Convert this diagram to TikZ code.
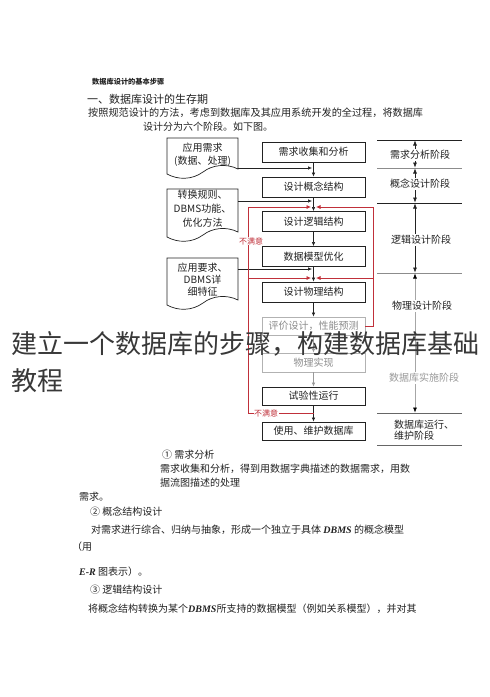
\documentclass[tikz,border=0pt]{standalone}
\usepackage{fontspec}
\setmainfont{Noto Sans CJK SC}
\newfontfamily\lserif{Liberation Serif}
\usetikzlibrary{arrows.meta}
\newcommand\myfs[1]{\fontsize{#1}{#1}\selectfont}
\definecolor{dred}{HTML}{C0303A}
\definecolor{ink}{HTML}{222222}
\begin{document}
\begin{tikzpicture}[x=1pt,y=-1pt,
  stepbox/.style={draw=ink, line width=0.8pt, minimum width=103pt, minimum height=20pt, inner sep=0pt, font={\myfs{10}}, text=ink},
  graybox/.style={stepbox, draw=black!30, text=black!45},
  arr/.style={-{Latex[length=4pt,width=3.5pt]}, line width=0.6pt, draw=ink},
  garr/.style={arr, draw=black!40},
  redl/.style={draw=dred, line width=0.7pt},
  redarr/.style={redl, -{Latex[length=4.5pt,width=4pt]}},
  docshape/.style={draw=ink, line width=0.7pt, fill=white},
  doctext/.style={align=center, font={\fontsize{10}{13}\selectfont}, text=ink, inner sep=0pt},
  phline/.style={draw=ink, line width=0.8pt},
  pharr/.style={{Latex[length=5pt,width=4pt]}-{Latex[length=5pt,width=4pt]}, line width=0.6pt, draw=ink},
  phase/.style={font={\myfs{10}}, fill=white, inner sep=1.5pt, text=ink},
  txt/.style={anchor=west, inner sep=0pt, font={\myfs{10}}, text=ink},
  warn/.style={font={\myfs{8}}, text=dred, fill=white, inner sep=0.5pt}
]
\useasboundingbox[fill=white] (0,0) rectangle (490,697);

% ---- heading text ----
\node[txt, font={\bfseries\myfs{7.2}}] (h0) at (92,82) {数据库设计的基本步骤};
\node[txt, font={\myfs{11}}] (h1) at (87,99) {一、数据库设计的生存期};
\node[txt, font={\myfs{10.15}}] (h2) at (88,113) {按照规范设计的方法，考虑到数据库及其应用系统开发的全过程，将数据库};
\node[txt] (h3) at (143,127) {设计分为六个阶段。如下图。};

% ---- main step boxes ----
\node[stepbox] (b1) at (313.5,152) {需求收集和分析};
\node[stepbox] (b2) at (313.5,187) {设计概念结构};
\node[stepbox] (b3) at (313.5,221.5) {设计逻辑结构};
\node[stepbox] (b4) at (313.5,256.5) {数据模型优化};
\node[stepbox] (b5) at (313.5,292) {设计物理结构};
\node[graybox, minimum height=18pt] (b6) at (313.5,326) {评价设计，性能预测};
\node[graybox, minimum height=19pt] (b7) at (313.5,362.5) {物理实现};
\node[stepbox, minimum height=18pt] (b8) at (313.5,396) {试验性运行};
\node[stepbox, minimum height=18pt] (b9) at (313.5,431) {使用、维护数据库};

\draw[arr] (b1) -- (b2);
\draw[arr] (b2) -- (b3);
\draw[arr] (b3) -- (b4);
\draw[arr] (b4) -- (b5);
\draw[arr] (b5) -- (b6);
\draw[garr] (b6) -- (b7);
\draw[garr] (b7) -- (b8);
\draw[arr] (b8) -- (b9);

% ---- input documents ----
\draw[docshape] (167,138) -- (238,138) -- (238,169) .. controls (226,163) and (212,165) .. (203,172) .. controls (192,180) and (178,180) .. (167,174) -- cycle;
\node[doctext] (d1) at (202.5,154.5) {应用需求\\(数据、处理)};
\draw[docshape] (167,189) -- (238,189) -- (238,232) .. controls (226,226) and (212,228) .. (203,235) .. controls (192,243) and (178,243) .. (167,237) -- cycle;
\node[doctext, font={\fontsize{10}{14}\selectfont}] (d2) at (202.5,209) {转换规则、\\DBMS功能、\\优化方法};
\draw[docshape] (167,258) -- (238,258) -- (238,300) .. controls (226,294) and (212,296) .. (203,303) .. controls (192,311) and (178,311) .. (167,305) -- cycle;
\node[doctext, font={\fontsize{10}{12}\selectfont}] (d3) at (202.5,280) {应用要求、\\DBMS详\\细特征};

\coordinate (d1o) at (238,168);
\coordinate (d2o) at (238,201);
\coordinate (d3o) at (238,269);
\coordinate (c1) at (312,168);
\coordinate (c2) at (312,201);
\coordinate (c3) at (312,269);
\draw[arr] (d1o) -- (c1);
\draw[arr] (d2o) -- (c2);
\draw[arr] (d3o) -- (c3);

% ---- feedback (red) ----
\coordinate (rl1) at (248,207);
\coordinate (rr1) at (373,207);
\coordinate (rl2) at (248,278);
\coordinate (rr2) at (373,278);
\coordinate (rlb) at (248,413);
\coordinate (rcb) at (313.5,413);
\coordinate (rrb) at (373,326);
\coordinate (t1l) at (311,207);
\coordinate (t1r) at (316,207);
\coordinate (t2l) at (311,278);
\coordinate (t2r) at (316,278);
\draw[redl] (rcb) -- (rlb) -- (rl1);
\draw[redarr] (rl1) -- (t1l);
\draw[redarr] (rl2) -- (t2l);
\draw[redl] (b6.east) -- (rrb) -- (rr1);
\draw[redarr] (rr1) -- (t1r);
\draw[redarr] (rr2) -- (t2r);
\node[warn] (w1) at (251,241) {不满意};
\node[warn] (w2) at (266,413) {不满意};

% ---- phases (right) ----
\coordinate (p0l) at (377,140); \coordinate (p0r) at (462,140);
\coordinate (p1l) at (377,168); \coordinate (p1r) at (462,168);
\coordinate (p2l) at (377,203); \coordinate (p2r) at (462,203);
\coordinate (p3l) at (377,273); \coordinate (p3r) at (462,273);
\coordinate (p4l) at (377,413); \coordinate (p4r) at (462,413);
\coordinate (p5l) at (377,445); \coordinate (p5r) at (462,445);
\draw[phline] (p0l) -- (p0r);
\draw[phline, draw=black!45] (p1l) -- (p1r);
\draw[phline] (p2l) -- (p2r);
\draw[phline, draw=black!45] (p3l) -- (p3r);
\draw[phline, draw=black!60] (p4l) -- (p4r);
\draw[phline, draw=black!60] (p5l) -- (p5r);
\coordinate (a0) at (415,140.5); \coordinate (a1a) at (415,167.5);
\coordinate (a1b) at (415,168.5); \coordinate (a2a) at (415,202.5);
\coordinate (a2b) at (415,203.5); \coordinate (a3a) at (415,272.5);
\coordinate (a3b) at (415,273.5); \coordinate (a4a) at (415,412.5);
\draw[pharr] (a0) -- (a1a);
\draw[pharr] (a1b) -- (a2a);
\draw[pharr] (a2b) -- (a3a);
\draw[pharr, draw=black!35, {Latex[length=5pt,width=4pt,black]}-{Latex[length=5pt,width=4pt,black]}] (a3b) -- (a4a);
\node[phase] (ph1) at (420,155) {需求分析阶段};
\node[phase] (ph2) at (420,184) {概念设计阶段};
\node[phase] (ph3) at (421,240) {逻辑设计阶段};
\node[phase] (ph4) at (422,306) {物理设计阶段};
\node[phase, text=black!40] (ph5) at (424,378) {数据库实施阶段};
\node[anchor=west, align=left, font={\fontsize{10}{11.5}\selectfont}, text=ink, inner sep=0pt] (ph6) at (394,430) {数据库运行、\\维护阶段};

% ---- lower body text ----
\node[txt] (t1) at (162,455) {①\ 需求分析};
\node[txt] (t2) at (160,469) {需求收集和分析，得到用数据字典描述的数据需求，用数};
\node[txt] (t3) at (160,483) {据流图描述的处理};
\node[txt] (t4) at (79,497) {需求。};
\node[txt] (t5) at (90,512) {②\ 概念结构设计};
\node[txt] (t6) at (91,530) {对需求进行综合、归纳与抽象，形成一个独立于具体 {\lserif\bfseries\itshape DBMS} 的概念模型};
\node[txt] (t7) at (72,547) {（用};
\node[txt] (t8) at (79,572) {{\lserif\bfseries\itshape E-R} 图表示）。};
\node[txt] (t9) at (90,590) {③\ 逻辑结构设计};
\node[txt] (t10) at (88,609) {将概念结构转换为某个{\lserif\bfseries\itshape DBMS}所支持的数据模型（例如关系模型），并对其};

% ---- overlay title ----
\node[anchor=west, inner sep=0pt, font={\myfs{26}}, text=black!78] (ov1) at (11,344) {建立一个数据库的步骤，构建数据库基础};
\node[anchor=west, inner sep=0pt, font={\myfs{26}}, text=black!78] (ov2) at (11,381) {教程};
\end{tikzpicture}
\end{document}
